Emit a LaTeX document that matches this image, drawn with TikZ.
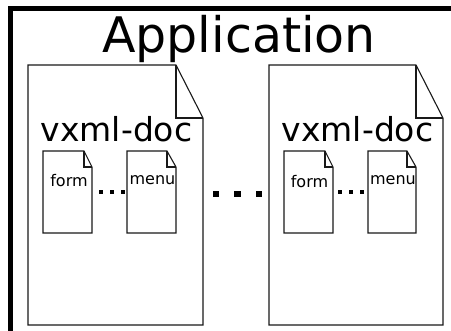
\documentclass[tikz,border=0pt]{standalone}
\usepackage{fontspec}
\setmainfont{DejaVu Sans}
\usetikzlibrary{positioning}

% page with a folded corner: x0, y0, x1, y1, fold width, fold height
\newcommand{\vxpage}[6]{%
  \draw[page] (#1,#2) -- (#3-#5,#2) -- (#3,#2+#6) -- (#3,#4) -- (#1,#4) -- cycle;
  \draw[page] (#3-#5,#2) -- (#3-#5,#2+#6) -- (#3,#2+#6);
}

\begin{document}
\begin{tikzpicture}[x=1pt, y=-1pt,
        page/.style={draw=black!90, line width=1.1pt, line join=miter},
        frame/.style={draw=black, line width=5pt},
        dot/.style={fill=black, draw=none},
        title/.style={font=\fontsize{49}{50}\selectfont, inner sep=0pt, anchor=base},
        doctitle/.style={font=\fontsize{33}{34}\selectfont, inner sep=0pt, anchor=base},
        item/.style={font=\fontsize{16}{17}\selectfont, inner sep=0pt, anchor=base},
    ]
        \useasboundingbox (0,0) rectangle (451,331);
        \clip (0,0) rectangle (451,331);

        % Application frame, open to the right and bottom
        \draw[frame] (10.5,345) -- (10.5,8.5) -- (470,8.5);
        \node[title] (app) at (239,53) {Application};

        % first vxml document
        \vxpage{28}{65}{203}{325}{27}{53}
        \node[doctitle] (doc_a) at (116.5,142) {vxml-doc};
        \vxpage{43}{151}{92}{233}{8}{16}
        \vxpage{127}{151}{176}{233}{9}{16}
        \node[item] (form_a) at (69,187) {form};
        \node[item] (menu_a) at (152.5,185) {menu};
        \foreach \x in {101,112,123}
            \fill[dot] (\x-2,190) rectangle (\x+2,194);

        % gap between the documents
        \foreach \x in {216,237.5,259}
            \fill[dot] (\x-3.3,191) rectangle (\x+3.3,197.5);

        % second vxml document
        \vxpage{269}{65}{443}{325}{27}{53}
        \node[doctitle] (doc_b) at (357.5,142) {vxml-doc};
        \vxpage{284}{151}{333}{233}{8}{16}
        \vxpage{368}{151}{416}{233}{9}{16}
        \node[item] (form_b) at (309.5,188) {form};
        \node[item] (menu_b) at (393,185) {menu};
        \foreach \x in {340,351,362}
            \fill[dot] (\x-2,190) rectangle (\x+2,194);
\end{tikzpicture}
\end{document}
